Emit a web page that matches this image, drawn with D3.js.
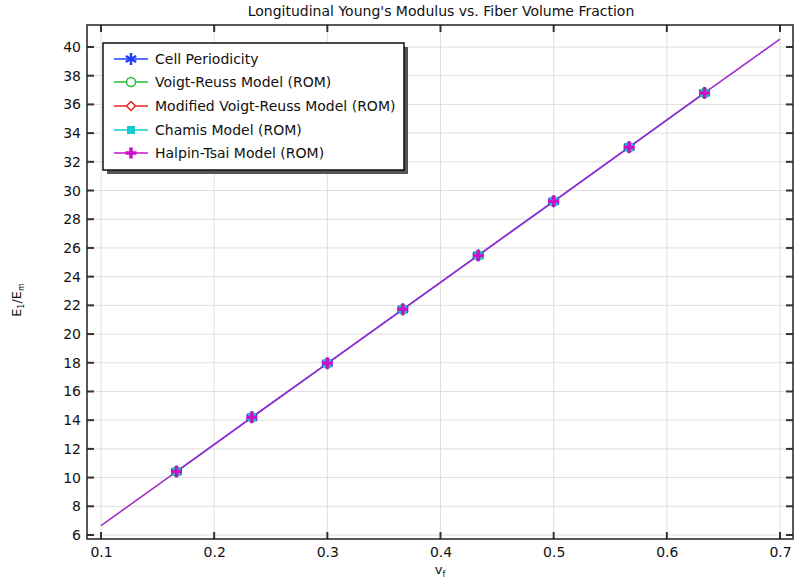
<!DOCTYPE html>
<html><head><meta charset="utf-8">
<script src="https://cdn.jsdelivr.net/npm/d3@7"></script>
<style>
body{margin:0;background:#fff;}
text{font-family:"DejaVu Sans",sans-serif;}
</style></head>
<body><svg id="c" width="799" height="588"></svg>
<script>
// Data
const markerVf = [0.1667, 0.2333, 0.3, 0.3667, 0.4333, 0.5, 0.5667, 0.6333];
const cellPeriodicity = [10.42, 14.2, 17.96, 21.72, 25.48, 29.25, 33.02, 36.8];
const voigtReuss = [10.42, 14.2, 17.96, 21.72, 25.48, 29.25, 33.02, 36.8];
const modVoigtReuss = [10.42, 14.2, 17.96, 21.72, 25.48, 29.25, 33.02, 36.8];
const chamis = [10.42, 14.2, 17.96, 21.72, 25.48, 29.25, 33.02, 36.8];
const halpinTsai = [10.42, 14.2, 17.96, 21.72, 25.48, 29.25, 33.02, 36.8];
const lineVf = [0.1, 0.1667, 0.2333, 0.3, 0.3667, 0.4333, 0.5, 0.5667, 0.6333, 0.7];
const lineModel = [6.65, 10.42, 14.2, 17.96, 21.72, 25.48, 29.25, 33.02, 36.8, 40.55];
const xTicks = [0.1, 0.2, 0.3, 0.4, 0.5, 0.6, 0.7];
const yTicks = [6, 8, 10, 12, 14, 16, 18, 20, 22, 24, 26, 28, 30, 32, 34, 36, 38, 40];
const seriesNames = ["Cell Periodicity", "Voigt-Reuss Model (ROM)", "Modified Voigt-Reuss Model (ROM)", "Chamis Model (ROM)", "Halpin-Tsai Model (ROM)"];
const seriesColors = ["#1f3cff", "#22bb33", "#ee2222", "#11cccc", "#cc11cc"];
const seriesMarkers = ["asterisk", "circle", "diamond", "square", "plus"];

const svg = d3.select("#c");
const L = 87, R = 793, T = 25, B = 539;
const x = d3.scaleLinear().domain([0.1, 0.7]).range([101, 780]);
const y = d3.scaleLinear().domain([6, 40]).range([535, 47]);
const FS = 14;

// grid
const g = svg.append("g");
g.selectAll(".gx").data(xTicks).enter().append("line")
  .attr("x1", d => x(d)).attr("x2", d => x(d)).attr("y1", T).attr("y2", B)
  .attr("stroke", "#dedede").attr("stroke-width", 1);
g.selectAll(".gy").data(yTicks).enter().append("line")
  .attr("y1", d => y(d)).attr("y2", d => y(d)).attr("x1", L).attr("x2", R)
  .attr("stroke", "#dedede").attr("stroke-width", 1);

// axes
const axB = d3.axisBottom(x).tickValues(xTicks).tickSize(0).tickPadding(8).tickFormat(d3.format(".1f"));
const axL = d3.axisLeft(y).tickValues(yTicks).tickSize(0).tickPadding(6).tickFormat(d3.format("d"));
const gb = svg.append("g").attr("transform", `translate(0,${B})`).call(axB);
const gl = svg.append("g").attr("transform", `translate(${L},0)`).call(axL);
[gb, gl].forEach(a => { a.select(".domain").remove(); a.selectAll("text").attr("font-size", FS).attr("fill", "#111").style("font-family", "DejaVu Sans"); });

// inward ticks
const tk = svg.append("g").attr("stroke", "#333").attr("stroke-width", 2);
xTicks.forEach(v => {
  tk.append("line").attr("x1", x(v)).attr("x2", x(v)).attr("y1", B).attr("y2", B - 7);
  tk.append("line").attr("x1", x(v)).attr("x2", x(v)).attr("y1", T).attr("y2", T + 7);
});
yTicks.forEach(v => {
  tk.append("line").attr("y1", y(v)).attr("y2", y(v)).attr("x1", L).attr("x2", L + 7);
  tk.append("line").attr("y1", y(v)).attr("y2", y(v)).attr("x1", R).attr("x2", R - 7);
});

// frame
svg.append("rect").attr("x", L).attr("y", T).attr("width", R - L).attr("height", B - T)
  .attr("fill", "none").attr("stroke", "#222").attr("stroke-width", 1.5);

// lines
const line = d3.line().x(d => x(d[0])).y(d => y(d[1]));
const plotG = svg.append("g");
plotG.append("path").datum(markerVf.map((v, i) => [v, cellPeriodicity[i]]))
  .attr("d", line).attr("fill", "none").attr("stroke", seriesColors[0]).attr("stroke-width", 1.5);
plotG.append("path").datum(lineVf.map((v, i) => [v, lineModel[i]]))
  .attr("d", line).attr("fill", "none").attr("stroke", "#a22ec8").attr("stroke-width", 1.6);

function marker(sel, type, color, cx, cy) {
  const m = sel.append("g").attr("transform", `translate(${cx},${cy})`);
  if (type === "asterisk") {
    [0, 60, 120].forEach(a => {
      const r = a * Math.PI / 180, s = 6;
      m.append("line").attr("x1", -s * Math.sin(r)).attr("y1", -s * Math.cos(r))
        .attr("x2", s * Math.sin(r)).attr("y2", s * Math.cos(r))
        .attr("stroke", color).attr("stroke-width", 2.5);
    });
  } else if (type === "circle") {
    m.append("circle").attr("r", 4.5).attr("fill", "#fff").attr("stroke", color).attr("stroke-width", 1.5);
  } else if (type === "diamond") {
    m.append("path").attr("d", "M0,-4.5L4.5,0L0,4.5L-4.5,0Z").attr("fill", "#fff").attr("stroke", color).attr("stroke-width", 1.5);
  } else if (type === "square") {
    m.append("rect").attr("x", -4).attr("y", -4).attr("width", 8).attr("height", 8).attr("fill", color);
  } else if (type === "plus") {
    m.append("path").attr("d", "M-5.5,0H5.5M0,-5.5V5.5").attr("stroke", color).attr("stroke-width", 3.5);
  }
}
const allVals = [cellPeriodicity, voigtReuss, modVoigtReuss, chamis, halpinTsai];
allVals.forEach((vals, si) => {
  vals.forEach((v, i) => marker(plotG, seriesMarkers[si], seriesColors[si], x(markerVf[i]), y(v)));
});

// legend
const lg = svg.append("g");
lg.append("rect").attr("x", 107).attr("y", 47).attr("width", 301).attr("height", 127).attr("fill", "#555");
lg.append("rect").attr("x", 103).attr("y", 43).attr("width", 301).attr("height", 127)
  .attr("fill", "#fff").attr("stroke", "#111").attr("stroke-width", 1.5);
const rowY = [59, 82, 106, 130, 153];
seriesNames.forEach((n, i) => {
  lg.append("line").attr("x1", 114).attr("x2", 148).attr("y1", rowY[i]).attr("y2", rowY[i])
    .attr("stroke", seriesColors[i]).attr("stroke-width", 1.3);
  marker(lg, seriesMarkers[i], seriesColors[i], 131, rowY[i]);
  lg.append("text").attr("x", 155).attr("y", rowY[i] + 5).attr("font-size", FS).attr("fill", "#111").text(n);
});

// title
svg.append("text").attr("x", 441).attr("y", 16).attr("text-anchor", "middle").attr("font-size", FS).attr("fill", "#111")
  .text("Longitudinal Young's Modulus vs. Fiber Volume Fraction");

// axis labels
const yl = svg.append("text").attr("transform", "translate(21,300) rotate(-90)").attr("text-anchor", "middle")
  .attr("font-size", 13).attr("fill", "#111");
yl.append("tspan").text("E");
yl.append("tspan").attr("font-size", 8).attr("dy", 3).text("1");
yl.append("tspan").attr("dy", -3).text("/E");
yl.append("tspan").attr("font-size", 8).attr("dy", 3).text("m");

const xl = svg.append("text").attr("x", 440).attr("y", 574).attr("text-anchor", "middle")
  .attr("font-size", 13).attr("fill", "#111");
xl.append("tspan").text("v");
xl.append("tspan").attr("font-size", 8).attr("dy", 3).text("f");
</script></body></html>
